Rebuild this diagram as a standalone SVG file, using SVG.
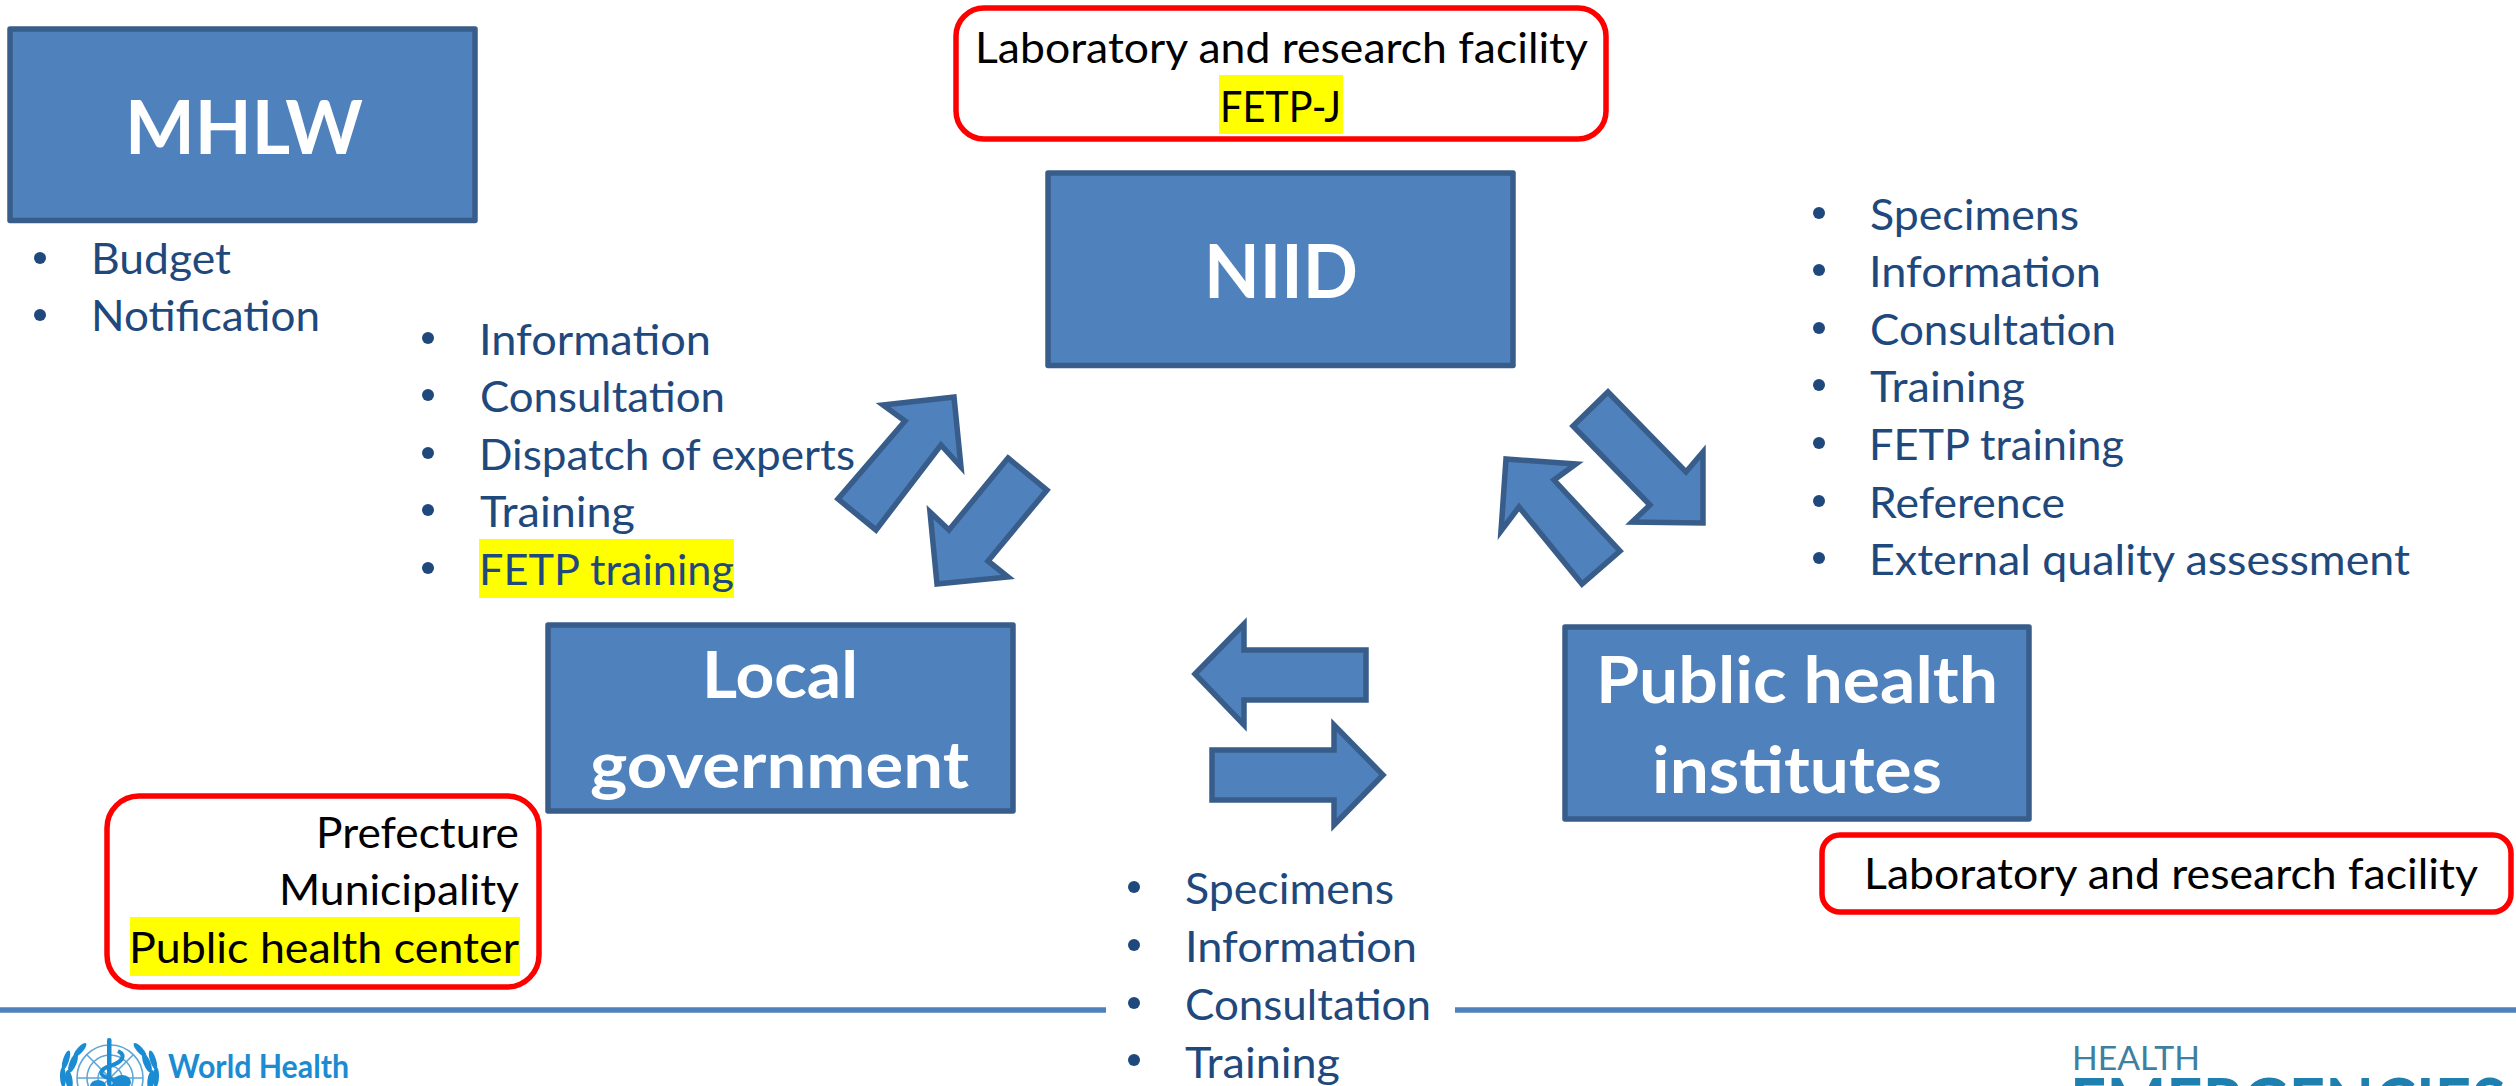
<svg xmlns="http://www.w3.org/2000/svg" width="2516" height="1086" viewBox="0 0 2516 1086">
<style>
text{font-family:Lato,"Open Sans","Liberation Sans",sans-serif}
.box{fill:#4f81bd;stroke:#385d8a;stroke-width:5.5;stroke-linejoin:round}
.arrow{fill:#4f81bd;stroke:#385d8a;stroke-width:5.5;stroke-linejoin:miter;stroke-miterlimit:10}
.note{fill:#fff;stroke:#ff0000;stroke-width:5.5}
.title{fill:#fff;font-weight:700}
.t84{font-size:75px}
.t72{font-size:65px}
.li{fill:#1f497d;font-size:43px}
.blk{fill:#000;font-size:43px}
.dot{fill:#1f497d}
.hl{fill:#ffff00}
.rule{stroke:#4f81bd;stroke-width:5.5}
.who{fill:#1b8bd2}
.wl{fill:none;stroke:#5ea6d6;stroke-width:1.6}
</style>
<g id="footer">
<line class="rule" x1="0" y1="1010" x2="1106" y2="1010"/>
<line class="rule" x1="1455" y1="1010" x2="2516" y2="1010"/>
</g>
<g id="who-logo">
<circle class="wl" cx="110" cy="1078" r="33"/>
<circle class="wl" cx="110" cy="1078" r="23"/>
<circle class="wl" cx="110" cy="1078" r="12"/>
<line class="wl" x1="77" y1="1078" x2="143" y2="1078"/>
<line class="wl" x1="87" y1="1055" x2="133" y2="1101"/>
<line class="wl" x1="133" y1="1055" x2="87" y2="1101"/>
<g class="who">
<rect x="107" y="1038" width="4.500" height="48" rx="2"/>
<ellipse cx="69" cy="1080" rx="3.500" ry="10" transform="rotate(-8 69 1080)"/>
<ellipse cx="73" cy="1063" rx="3.500" ry="10" transform="rotate(22 73 1063)"/>
<ellipse cx="80" cy="1050" rx="3" ry="9" transform="rotate(42 80 1050)"/>
<ellipse cx="63" cy="1077" rx="3" ry="10" transform="rotate(-2 63 1077)"/>
<ellipse cx="66" cy="1060" rx="3" ry="10" transform="rotate(18 66 1060)"/>
<ellipse cx="151" cy="1080" rx="3.500" ry="10" transform="rotate(8 151 1080)"/>
<ellipse cx="147" cy="1063" rx="3.500" ry="10" transform="rotate(-22 147 1063)"/>
<ellipse cx="140" cy="1050" rx="3" ry="9" transform="rotate(-42 140 1050)"/>
<ellipse cx="156" cy="1077" rx="3" ry="10" transform="rotate(2 156 1077)"/>
<ellipse cx="153" cy="1060" rx="3" ry="10" transform="rotate(-18 153 1060)"/>
<ellipse cx="122" cy="1082" rx="9" ry="7"/>
<ellipse cx="98" cy="1086" rx="8" ry="6"/>
</g>
<path d="M118 1051C128 1056 120 1063 110 1066C100 1069 98 1075 108 1078C118 1081 116 1086 108 1088" fill="none" stroke="#1b8bd2" stroke-width="4"/>
<text class="who" x="168" y="1078" font-size="33" font-weight="700" textLength="181" lengthAdjust="spacingAndGlyphs">World Health</text>
</g>
<g id="he-logo">
<text x="2072" y="1070" font-size="32" font-weight="400" fill="#3f7f9f" textLength="128" lengthAdjust="spacingAndGlyphs">HEALTH</text>
<text x="2070" y="1128" font-size="68" font-weight="700" fill="#1f80b0" textLength="436" lengthAdjust="spacingAndGlyphs">EMERGENCIES</text>
</g>
<g id="connectors">
<polygon class="arrow" points="883,405 954,397 961,467 941,445 876,530 838,499 905,421"/>
<polygon class="arrow" points="1008,458 1047,490 988,561 1008,577 937,584 930,512 949,530"/>
<polygon class="arrow" points="1608,392 1686,472 1703,452 1703,523 1632,522 1650,505 1573,426"/>
<polygon class="arrow" points="1506,459 1576,464 1554,480 1620,551 1582,584 1519,507 1501,531"/>
<polygon class="arrow" points="1195,674 1244,624 1244,650 1366,650 1366,700 1244,700 1244,725"/>
<polygon class="arrow" points="1212,750 1334,750 1334,725 1383,775 1334,825 1334,800 1212,800"/>
</g>
<g id="mhlw">
<rect class="box" x="10" y="29" width="465" height="191.500"/>
<text class="title t84" x="125" y="154" textLength="238" lengthAdjust="spacingAndGlyphs">MHLW</text>
<circle class="dot" cx="40" cy="258" r="6"/><text class="li" x="91" y="274" textLength="140" lengthAdjust="spacingAndGlyphs">Budget</text>
<circle class="dot" cx="40" cy="315" r="6"/><text class="li" x="91" y="331" textLength="229" lengthAdjust="spacingAndGlyphs">Notification</text>
</g>
<g id="niid">
<rect class="box" x="1048" y="173" width="465" height="192.500"/>
<text class="title t84" x="1204" y="298" textLength="154" lengthAdjust="spacingAndGlyphs">NIID</text>
</g>
<g id="niid-note">
<rect class="note" x="956" y="8" width="650" height="131" rx="28"/>
<rect class="hl" x="1219" y="75" width="124" height="59"/>
<text class="blk" x="975" y="63" textLength="613" lengthAdjust="spacingAndGlyphs">Laboratory and research facility</text>
<text class="blk" x="1220" y="122" textLength="121" lengthAdjust="spacingAndGlyphs">FETP-J</text>
</g>
<g id="local-government">
<rect class="box" x="548" y="625" width="465" height="186"/>
<text class="title t72" x="702" y="698" textLength="156" lengthAdjust="spacingAndGlyphs">Local</text>
<text class="title t72" x="590" y="788" textLength="379" lengthAdjust="spacingAndGlyphs">government</text>
</g>
<g id="local-note">
<rect class="note" x="107" y="796" width="432" height="191" rx="32"/>
<rect class="hl" x="130" y="917" width="390" height="59"/>
<text class="blk" x="316" y="848" textLength="203" lengthAdjust="spacingAndGlyphs">Prefecture</text>
<text class="blk" x="279" y="905" textLength="240" lengthAdjust="spacingAndGlyphs">Municipality</text>
<text class="blk" x="129" y="963" textLength="390" lengthAdjust="spacingAndGlyphs">Public health center</text>
</g>
<g id="local-list">
<rect class="hl" x="479" y="539" width="255" height="59"/>
<circle class="dot" cx="428" cy="338" r="6"/><text class="li" x="479" y="355" textLength="232" lengthAdjust="spacingAndGlyphs">Information</text>
<circle class="dot" cx="428" cy="395" r="6"/><text class="li" x="480" y="412" textLength="245" lengthAdjust="spacingAndGlyphs">Consultation</text>
<circle class="dot" cx="428" cy="453" r="6"/><text class="li" x="479" y="470" textLength="376" lengthAdjust="spacingAndGlyphs">Dispatch of experts</text>
<circle class="dot" cx="428" cy="510" r="6"/><text class="li" x="480" y="527" textLength="155" lengthAdjust="spacingAndGlyphs">Training</text>
<circle class="dot" cx="428" cy="568" r="6"/><text class="li" x="479" y="585" textLength="255" lengthAdjust="spacingAndGlyphs">FETP training</text>
</g>
<g id="public-health-institutes">
<rect class="box" x="1565" y="627" width="464" height="192"/>
<text class="title t72" x="1596" y="703" textLength="402" lengthAdjust="spacingAndGlyphs">Public health</text>
<text class="title t72" x="1652" y="793" textLength="290" lengthAdjust="spacingAndGlyphs">institutes</text>
</g>
<g id="phi-note">
<rect class="note" x="1822" y="835" width="689" height="77" rx="18"/>
<text class="blk" x="1864" y="889" textLength="614" lengthAdjust="spacingAndGlyphs">Laboratory and research facility</text>
</g>
<g id="phi-list">
<circle class="dot" cx="1819" cy="213" r="6"/><text class="li" x="1870" y="230" textLength="209" lengthAdjust="spacingAndGlyphs">Specimens</text>
<circle class="dot" cx="1819" cy="270" r="6"/><text class="li" x="1869" y="287" textLength="232" lengthAdjust="spacingAndGlyphs">Information</text>
<circle class="dot" cx="1819" cy="328" r="6"/><text class="li" x="1870" y="345" textLength="246" lengthAdjust="spacingAndGlyphs">Consultation</text>
<circle class="dot" cx="1819" cy="385" r="6"/><text class="li" x="1870" y="402" textLength="155" lengthAdjust="spacingAndGlyphs">Training</text>
<circle class="dot" cx="1819" cy="443" r="6"/><text class="li" x="1869" y="460" textLength="255" lengthAdjust="spacingAndGlyphs">FETP training</text>
<circle class="dot" cx="1819" cy="501" r="6"/><text class="li" x="1869" y="518" textLength="196" lengthAdjust="spacingAndGlyphs">Reference</text>
<circle class="dot" cx="1819" cy="558" r="6"/><text class="li" x="1869" y="575" textLength="541" lengthAdjust="spacingAndGlyphs">External quality assessment</text>
</g>
<g id="exchange-list">
<circle class="dot" cx="1134" cy="887" r="6"/><text class="li" x="1185" y="904" textLength="209" lengthAdjust="spacingAndGlyphs">Specimens</text>
<circle class="dot" cx="1134" cy="945" r="6"/><text class="li" x="1185" y="962" textLength="232" lengthAdjust="spacingAndGlyphs">Information</text>
<circle class="dot" cx="1134" cy="1003" r="6"/><text class="li" x="1185" y="1020" textLength="246" lengthAdjust="spacingAndGlyphs">Consultation</text>
<circle class="dot" cx="1134" cy="1060" r="6"/><text class="li" x="1185" y="1078" textLength="155" lengthAdjust="spacingAndGlyphs">Training</text>
</g>
</svg>
